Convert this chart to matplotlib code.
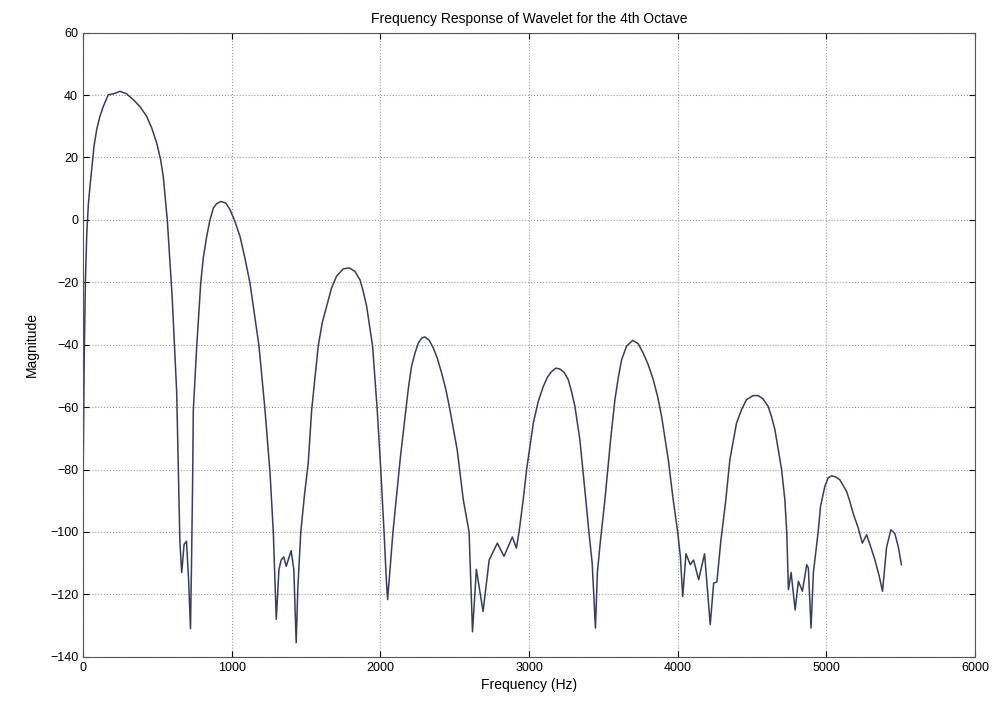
import matplotlib
matplotlib.use("Agg")
import matplotlib.pyplot as plt

plt.rcParams['font.family'] = ['Liberation Sans', 'DejaVu Sans']

# frequency (Hz) and magnitude (dB) of the 4th-octave wavelet filter
freq = [0, 8, 16, 25, 36, 47, 74, 92, 114, 137, 170, 204, 249, 293, 339, 383,
        428, 462, 496, 522, 540, 567, 600, 630,
        652, 664, 680, 696, 710, 723, 730, 737,
        742, 765, 792, 809, 832, 854, 877, 899, 928, 960, 989, 1022, 1056, 1089,
        1123, 1184, 1224, 1258,
        1280, 1300, 1318, 1333, 1350, 1367, 1400, 1418, 1434, 1445, 1465, 1490, 1515,
        1538, 1582, 1609, 1639, 1672, 1706, 1751, 1791, 1829, 1863, 1885, 1908,
        1948, 1979, 2004,
        2025, 2040, 2049, 2065, 2085, 2110, 2135,
        2172, 2190, 2210, 2233, 2255, 2278, 2300, 2329, 2356, 2383, 2412, 2441,
        2468, 2517, 2558,
        2597, 2620, 2646, 2691, 2732, 2787, 2832, 2888, 2915, 2933, 2961,
        2984, 3029, 3062, 3096, 3124, 3152, 3181, 3208, 3237, 3264, 3286, 3309,
        3342, 3369,
        3403, 3425, 3447, 3460, 3480, 3510,
        3549, 3578, 3600, 3623, 3656, 3697, 3735, 3768, 3802, 3836, 3865, 3892,
        3937, 3970,
        4000, 4018, 4034, 4056, 4085, 4107, 4141, 4181, 4219, 4242, 4264, 4290, 4324,
        4351, 4396, 4430, 4463, 4508, 4541, 4575, 4609, 4631, 4654, 4699, 4721,
        4734, 4745, 4763, 4790, 4812, 4839, 4868, 4879, 4897, 4913, 4945,
        4961, 4990, 5012, 5035, 5064, 5091, 5136, 5158, 5180, 5215, 5242, 5271,
        5300, 5327, 5355, 5378, 5405, 5434, 5461, 5485, 5505]
mag = [-88, -45, -20, -5, 5, 10.7, 23.6, 28.9, 33.2, 36.4, 40.1, 40.4, 41.2, 40.4, 38.5, 36.3,
       33.2, 29.5, 24.6, 19.3, 13.9, 0, -25, -55,
       -103.5, -113, -104, -103, -115, -131, -110, -85,
       -61, -40.5, -20.2, -12.2, -5.3, 0, 3.8, 5.2, 5.9, 5.4, 3.3, -0.5, -5.3, -12.2,
       -20.2, -40.5, -60.8, -81,
       -100, -128, -112, -109, -108, -111, -106, -112, -135.5, -118, -100, -88, -78,
       -61, -40.5, -33, -27.7, -21.8, -18, -15.7, -15.4, -16.5, -19.2, -22.9, -27.7,
       -40.5, -60.8, -81,
       -100, -115, -121.7, -112, -100, -88, -76,
       -60.8, -53.4, -46.9, -42.7, -39.5, -37.9, -37.5, -38.6, -41, -44.3, -49, -54.4,
       -60.8, -73.7, -89.7,
       -100, -132, -112, -125.5, -109, -103.6, -107.8, -101.6, -105.2, -100, -89.7,
       -80, -65.1, -58.2, -53.4, -50.4, -48.6, -47.5, -47.8, -48.9, -51.2, -55, -59.8,
       -70.4, -83.3,
       -100, -110, -130.8, -113, -103, -90,
       -70.4, -57.6, -50.7, -44.8, -40.5, -38.6, -39.7, -42.7, -46.4, -51.2, -56.6, -63,
       -76.9, -89.7,
       -100, -107.8, -120.7, -107, -110.5, -109, -115.3, -107, -129.7, -116.4, -116, -103, -89.7,
       -76.9, -65.1, -60.8, -57.6, -56.3, -56.3, -57.4, -59.8, -63, -67.2, -80, -89.7,
       -100.4, -118.5, -113, -125, -115.8, -119, -110.5, -111.5, -130.8, -113, -100,
       -91.8, -85.4, -82.7, -82, -82.4, -83.3, -87, -90.2, -94, -98.8, -103.6, -100.9,
       -105, -109, -114, -119, -105, -99.3, -100.5, -105, -110.5]

fig = plt.figure(figsize=(10, 7.1), dpi=100)
ax = fig.add_axes([0.083, 0.075, 0.892, 0.879])

ax.plot(freq, mag, color='#3a3a66', lw=1.1)

ax.set_xlim(0, 6000)
ax.set_ylim(-140, 60)
ax.set_xticks(range(0, 6001, 1000))
ax.set_yticks(range(-140, 61, 20))
ax.grid(True, linestyle=':', color='#999999', lw=0.8)
ax.tick_params(direction='in', top=True, right=True, labelsize=9, length=4)
for s in ax.spines.values():
    s.set_color('#555555')

ax.set_title('Frequency Response of Wavelet for the 4th Octave', fontsize=10, pad=7)
ax.set_xlabel('Frequency (Hz)', fontsize=10, labelpad=3)
ax.set_ylabel('Magnitude', fontsize=10, labelpad=8)

fig.savefig('out.png', dpi=100)
